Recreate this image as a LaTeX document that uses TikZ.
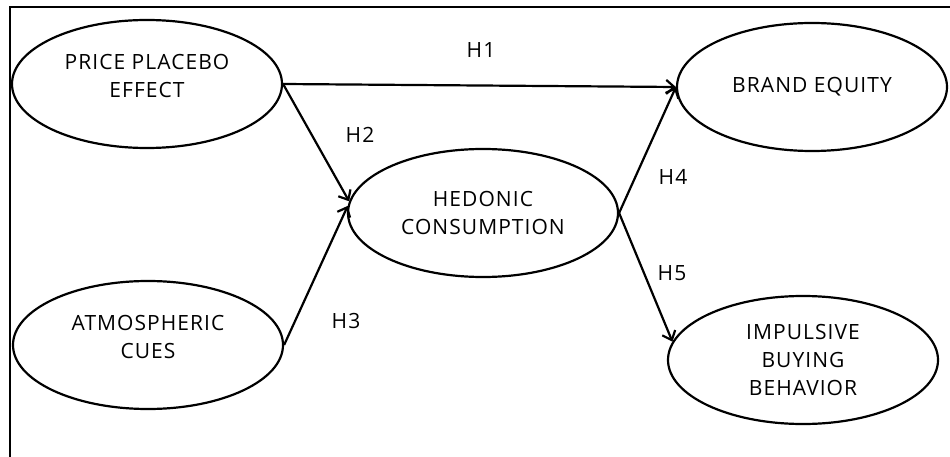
\documentclass[tikz,border=0pt]{standalone}
\usepackage{fontspec}
\setmainfont{Open Sans}[LetterSpace=5]
\usepackage{tikz}
\usetikzlibrary{shapes.geometric,arrows.meta}

\begin{document}
\begin{tikzpicture}[
		x=1pt, y=-1pt,
		construct/.style={ellipse,draw,line width=2.2pt,minimum width=270,minimum height=128,inner sep=0pt,align=center,font=\fontsize{21}{28}\selectfont},
		path/.style={line width=2.2pt,-{Straight Barb[length=8pt,width=14pt,line width=2.2pt]}},
		hyp/.style={font=\fontsize{21}{22}\selectfont}]
		\useasboundingbox (0,0) rectangle (950,457);
		\draw[line width=1.8pt] (10,457) -- (10,7) -- (950,7); % frame, cut off right and below

		\node[construct] (price) at (147,84) {PRICE PLACEBO\\EFFECT\\[-12pt]};
		\node[construct] (atmo) at (148,345) {ATMOSPHERIC\\CUES\\[-12pt]};
		\node[construct] (hedo) at (483,213) {HEDONIC\\CONSUMPTION};
		\node[construct] (brand) at (812,87) {BRAND EQUITY};
		\node[construct] (impul) at (803,360) {IMPULSIVE\\BUYING\\BEHAVIOR};

		\node[hyp] (h1) at (481,50) {H1};
		\node[hyp] (h2) at (360,135) {H2};
		\node[hyp] (h3) at (346,321) {H3};
		\node[hyp] (h4) at (673,177) {H4};
		\node[hyp] (h5) at (672,273) {H5};

		\draw[path] (price.east) -- (brand.west);
		\draw[path] (price.east) -- (hedo.175);
		\draw[path] (atmo.east) -- (hedo.177);
		\draw[path] (hedo.east) -- (brand.west);
		\draw[path] (hedo.east) -- (impul.172);
\end{tikzpicture}
\end{document}
